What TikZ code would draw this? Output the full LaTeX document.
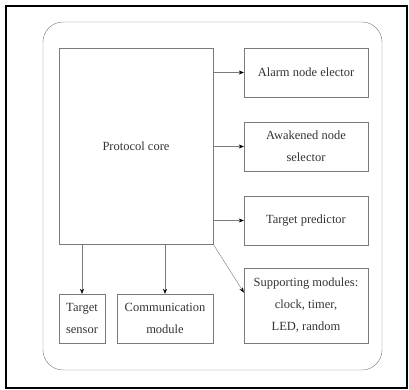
\documentclass[tikz,border=0pt]{standalone}
\usepackage{fontspec}
\setmainfont{Liberation Serif}
\usetikzlibrary{arrows.meta}
\definecolor{linegray}{HTML}{7A7A7A}
\definecolor{textgray}{HTML}{333333}
\tikzstyle{module} = [
    rectangle,
    draw=linegray,
    text=textgray,
    align=center,
    inner sep=1pt,
    font=\fontsize{12.5}{22}\selectfont
]
\tikzstyle{arrow} = [draw=linegray,-{Stealth[length=5pt,width=4pt,black]}]

\begin{document}
\begin{tikzpicture}[x=1pt,y=-1pt]

\useasboundingbox (0,0) rectangle (409,390);
\draw [line width=2pt] (6,6) rectangle (407,388);
\draw [linegray, rounded corners=20pt] (43,22) rectangle (382,370);

\node (core) [module, minimum width=154pt, minimum height=196pt] at (136,146)
{Protocol core};

\node (elector) [module, minimum width=124pt, minimum height=49pt] at (306,72.5)
{Alarm node elector};

\node (selector) [module, minimum width=124pt, minimum height=49pt] at (306,146.5)
{Awakened node\\selector};

\node (predictor) [module, minimum width=124pt, minimum height=49pt] at (306,220.5)
{Target predictor};

\node (support) [module, minimum width=124pt, minimum height=75pt] at (306,305.5)
{Supporting modules:\\clock, timer,\\LED, random};

\node (sensor) [module, minimum width=46pt, minimum height=49pt] at (82,318.5)
{Target\\sensor};

\node (comm) [module, minimum width=96pt, minimum height=49pt] at (165,318.5)
{Communication\\module};

\draw [arrow] (core.east |- elector.west) -- (elector.west);
\draw [arrow] (core.east |- selector.west) -- (selector.west);
\draw [arrow] (core.east |- predictor.west) -- (predictor.west);
\draw [arrow] (core.south east) -- ([yshift=13pt]support.west);
\draw [arrow] (sensor |- core.south) -- (sensor.north);
\draw [arrow] (comm |- core.south) -- (comm.north);

\end{tikzpicture}
\end{document}
